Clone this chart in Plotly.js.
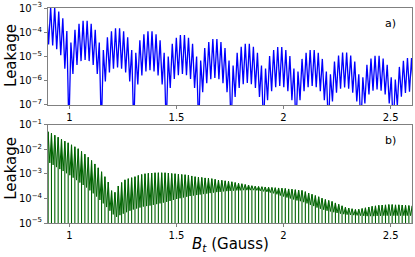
<!DOCTYPE html>
<html>
<head>
<meta charset="utf-8">
<script src="https://cdn.plot.ly/plotly-3.0.1.min.js"></script>
<style>html,body{margin:0;padding:0;background:#fff;}#chart{width:415px;height:257px;}</style>
</head>
<body>
<div id="chart"></div>
<script>
// ---------- panel a) : blue trace (log10 of leakage) ----------
const topDipX = [0.8649,0.8839,0.9028,0.9218,0.9407,0.9596,0.9786,0.9975,1.0164,1.0354,1.0543,1.0733,1.0922,1.1111,1.1301,1.1490,1.1679,1.1869,1.2058,1.2248,1.2437,1.2626,1.2816,1.3005,1.3195,1.3384,1.3573,1.3763,1.3952,1.4141,1.4331,1.4520,1.4710,1.4899,1.5088,1.5278,1.5467,1.5657,1.5846,1.6035,1.6225,1.6414,1.6603,1.6793,1.6982,1.7172,1.7361,1.7550,1.7740,1.7929,1.8118,1.8308,1.8497,1.8687,1.8876,1.9065,1.9255,1.9444,1.9633,1.9823,2.0012,2.0202,2.0391,2.0580,2.0770,2.0959,2.1148,2.1338,2.1527,2.1717,2.1906,2.2095,2.2285,2.2474,2.2664,2.2853,2.3042,2.3232,2.3421,2.3610,2.3800,2.3989,2.4179,2.4368,2.4557,2.4747,2.4936,2.5125,2.5315,2.5504,2.5693,2.5883,2.6072];
const topDipLog = [-4.6,-4.5,-4.5,-4.55,-4.7,-4.95,-5.5,-8,
 -5.72,-5.35,-5.19,-5.14,-5.19,-5.35,-5.72,-8,
 -6.03,-5.66,-5.50,-5.45,-5.50,-5.66,-6.03,-8,
 -6.15,-5.78,-5.62,-5.57,-5.62,-5.78,-6.15,-8,
 -6.3,-5.93,-5.77,-5.72,-5.77,-5.93,-6.3,-8,
 -6.47,-6.10,-5.94,-5.89,-5.94,-6.10,-6.47,-8,
 -6.67,-6.30,-6.14,-6.09,-6.14,-6.30,-6.67,-8,
 -6.8,-6.43,-6.27,-6.22,-6.27,-6.43,-6.8,-8,
 -6.8,-6.43,-6.27,-6.22,-6.27,-6.43,-6.8,-8,
 -6.86,-6.49,-6.33,-6.28,-6.33,-6.49,-6.86,-8,
 -6.94,-6.57,-6.41,-6.36,-6.41,-6.57,-6.94,-8,
 -7.03,-6.66,-6.5,-6.45,-6.5];
const topPeakLog = [-3.33,-3.07,-2.97,-2.98,-3.15,-3.42,-3.95,
 -4.42,-3.9,-3.65,-3.53,-3.53,-3.65,-3.9,-4.42,
 -4.73,-4.21,-3.96,-3.84,-3.84,-3.96,-4.21,-4.73,
 -4.85,-4.33,-4.08,-3.96,-3.96,-4.08,-4.33,-4.85,
 -5.0,-4.48,-4.23,-4.11,-4.11,-4.23,-4.48,-5.0,
 -5.17,-4.65,-4.40,-4.28,-4.28,-4.40,-4.65,-5.17,
 -5.37,-4.85,-4.60,-4.48,-4.48,-4.60,-4.85,-5.37,
 -5.5,-4.98,-4.73,-4.61,-4.61,-4.73,-4.98,-5.5,
 -5.62,-5.10,-4.85,-4.73,-4.73,-4.85,-5.10,-5.62,
 -5.73,-5.21,-4.96,-4.84,-4.84,-4.96,-5.21,-5.73,
 -5.86,-5.34,-5.09,-4.97,-4.97,-5.09,-5.34,-5.86,
 -5.95,-5.43,-5.18,-5.06,-5.06];

// ---------- panel b) : green trace (log10 of leakage) ----------
const botX = [0.885,0.9006,0.9162,0.9318,0.9474,0.963,0.9786,0.9942,1.0098,1.0254,1.041,1.0566,1.0722,1.0878,1.1034,1.119,1.1346,1.1502,1.1658,1.1814,1.197,1.2126,1.2282,1.2438,1.2594,1.275,1.2906,1.3062,1.3218,1.3374,1.353,1.3686,1.3842,1.3998,1.4154,1.431,1.4466,1.4622,1.4778,1.4934,1.509,1.5246,1.5402,1.5558,1.5714,1.587,1.6026,1.6182,1.6338,1.6494,1.665,1.6806,1.6962,1.7118,1.7274,1.743,1.7586,1.7742,1.7898,1.8054,1.821,1.8366,1.8522,1.8678,1.8834,1.899,1.9146,1.9302,1.9458,1.9614,1.977,1.9926,2.0082,2.0238,2.0394,2.055,2.0706,2.0862,2.1018,2.1174,2.133,2.1486,2.1642,2.1798,2.1954,2.211,2.2266,2.2422,2.2578,2.2734,2.289,2.3046,2.3202,2.3358,2.3514,2.367,2.3826,2.3982,2.4138,2.4294,2.445,2.4606,2.4762,2.4918,2.5074,2.523,2.5386,2.5542,2.5698,2.5854,2.601];
const botPeakLog = [-1.22,-1.28,-1.34,-1.42,-1.50,-1.58,-1.66,-1.73,-1.81,-1.89,
 -1.97,-2.08,-2.19,-2.32,-2.45,-2.59,-2.75,-2.91,-3.11,-3.33,
 -3.68,-3.75,-3.49,-3.35,-3.24,-3.19,-3.15,-3.11,-3.06,-3.02,
 -2.99,-2.97,-2.96,-2.95,-2.95,-2.95,-2.95,-2.96,-2.98,-2.99,
 -3.01,-3.02,-3.03,-3.05,-3.08,-3.11,-3.13,-3.14,-3.16,-3.17,
 -3.19,-3.22,-3.25,-3.26,-3.28,-3.30,-3.32,-3.35,-3.38,-3.40,
 -3.43,-3.45,-3.48,-3.50,-3.51,-3.52,-3.53,-3.54,-3.55,-3.56,
 -3.57,-3.58,-3.59,-3.61,-3.62,-3.64,-3.66,-3.67,-3.72,-3.78,
 -3.83,-3.88,-3.93,-3.99,-4.04,-4.08,-4.12,-4.18,-4.24,-4.30,
 -4.36,-4.39,-4.42,-4.45,-4.44,-4.41,-4.38,-4.35,-4.32,-4.30,
 -4.28,-4.27,-4.26,-4.25,-4.25,-4.26,-4.26,-4.27,-4.28,-4.29,-4.30];
const botTroughLog = [-2.45,-2.55,-2.63,-2.72,-2.8,-2.88,-2.97,-3.05,-3.15,-3.25,
 -3.35,-3.45,-3.55,-3.67,-3.79,-3.92,-4.06,-4.2,-4.35,-4.5,
 -4.65,-4.75,-4.68,-4.62,-4.56,-4.5,-4.45,-4.41,-4.37,-4.33,
 -4.31,-4.29,-4.26,-4.23,-4.2,-4.17,-4.14,-4.1,-4.06,-4.02,
 -3.99,-3.96,-3.93,-3.9,-3.88,-3.86,-3.84,-3.82,-3.8,-3.78,
 -3.76,-3.74,-3.73,-3.71,-3.7,-3.69,-3.68,-3.67,-3.67,-3.66,
 -3.66,-3.66,-3.66,-3.67,-3.69,-3.71,-3.73,-3.76,-3.79,-3.83,
 -3.88,-3.92,-3.96,-4.0,-4.04,-4.08,-4.11,-4.15,-4.2,-4.26,
 -4.31,-4.37,-4.42,-4.46,-4.5,-4.53,-4.56,-4.59,-4.62,-4.64,
 -4.66,-4.67,-4.68,-4.69,-4.7,-4.71,-4.72,-4.72,-4.72,-4.71,
 -4.71,-4.7,-4.7,-4.7,-4.7,-4.7,-4.7,-4.7,-4.7,-4.7];
const botSpikeFloorLog = -6;

// ---------- ticks & labels ----------
const xTickVals = [1, 1.5, 2, 2.5];
const xTickText = ['1', '1.5', '2', '2.5'];
const topYTickVals = [1e-3, 1e-4, 1e-5, 1e-6, 1e-7];
const topYTickText = ['10<sup>−3</sup>','10<sup>−4</sup>','10<sup>−5</sup>','10<sup>−6</sup>','10<sup>−7</sup>'];
const botYTickVals = [1e-1, 1e-2, 1e-3, 1e-4, 1e-5];
const botYTickText = ['10<sup>−1</sup>','10<sup>−2</sup>','10<sup>−3</sup>','10<sup>−4</sup>','10<sup>−5</sup>'];

const p10 = v => Math.pow(10, v);

// build top polyline: dip, peak (between dips), dip, ...
const topX = [], topY = [];
for (let i = 0; i < topDipX.length; i++) {
  topX.push(topDipX[i]); topY.push(p10(topDipLog[i]));
  if (i < topPeakLog.length) {
    topX.push((topDipX[i] + topDipX[i + 1]) / 2);
    topY.push(p10(topPeakLog[i]));
  }
}
// bottom polyline: peak, shallow trough, peak, ...
const botVX = [], botVY = [];
for (let i = 0; i < botX.length; i++) {
  botVX.push(botX[i]); botVY.push(p10(botPeakLog[i]));
  if (i < botTroughLog.length) {
    botVX.push((botX[i] + botX[i + 1]) / 2);
    botVY.push(p10(botTroughLog[i]));
  }
}
// deep spikes at every peak position
const spX = [], spY = [];
for (let i = 0; i < botX.length; i++) {
  spX.push(botX[i], botX[i], null);
  spY.push(p10(botPeakLog[i]), p10(botSpikeFloorLog), null);
}

const blue = '#0000ff', green = '#006400', frame = '#808080';
const font = {family: 'DejaVu Sans, sans-serif', size: 10, color: '#000'};

const traces = [
  {x: topX, y: topY, type: 'scatter', mode: 'lines', line: {color: blue, width: 1.3}, xaxis: 'x', yaxis: 'y', hoverinfo: 'skip'},
  {x: botVX, y: botVY, type: 'scatter', mode: 'lines', line: {color: green, width: 1}, xaxis: 'x2', yaxis: 'y2', hoverinfo: 'skip'},
  {x: spX, y: spY, type: 'scatter', mode: 'lines', line: {color: green, width: 1.1}, xaxis: 'x2', yaxis: 'y2', hoverinfo: 'skip', connectgaps: false}
];

const xAxisBase = {
  range: [0.9, 2.6], tickvals: xTickVals, ticktext: xTickText,
  showline: true, mirror: true, linecolor: frame, linewidth: 1,
  ticks: 'outside', ticklen: 3, tickcolor: frame, showgrid: false, zeroline: false,
  tickfont: font
};
const yAxisBase = {
  type: 'log', showline: true, mirror: true, linecolor: frame, linewidth: 1,
  ticks: 'outside', ticklen: 3, tickcolor: frame, showgrid: false, zeroline: false,
  tickfont: font
};

const layout = {
  width: 415, height: 257,
  margin: {l: 48, r: 3, t: 8, b: 34},
  paper_bgcolor: '#fff', plot_bgcolor: '#fff',
  showlegend: false,
  font: font,
  xaxis: Object.assign({}, xAxisBase, {anchor: 'y'}),
  yaxis: Object.assign({}, yAxisBase, {domain: [0.549, 1], range: [-7, -3], tickvals: topYTickVals, ticktext: topYTickText, anchor: 'x'}),
  xaxis2: Object.assign({}, xAxisBase, {anchor: 'y2'}),
  yaxis2: Object.assign({}, yAxisBase, {domain: [0, 0.456], range: [-5, -1], tickvals: botYTickVals, ticktext: botYTickText, anchor: 'x2'}),
  annotations: [
    {text: 'Leakage', xref: 'paper', yref: 'paper', x: -0.102, y: 0.781, textangle: -90, showarrow: false, font: {family: 'DejaVu Sans, sans-serif', size: 15, color: '#000'}, xanchor: 'center', yanchor: 'middle'},
    {text: 'Leakage', xref: 'paper', yref: 'paper', x: -0.102, y: 0.256, textangle: -90, showarrow: false, font: {family: 'DejaVu Sans, sans-serif', size: 15, color: '#000'}, xanchor: 'center', yanchor: 'middle'},
    {text: '<i>B<sub>t</sub></i> (Gauss)', xref: 'paper', yref: 'paper', x: 0.5, y: -0.102, showarrow: false, font: {family: 'DejaVu Sans, sans-serif', size: 15, color: '#000'}, xanchor: 'center', yanchor: 'middle'},
    {text: 'a)', xref: 'paper', yref: 'paper', x: 0.94, y: 0.93, showarrow: false, font: {family: 'DejaVu Sans, sans-serif', size: 11, color: '#000'}, xanchor: 'center', yanchor: 'middle'},
    {text: 'b)', xref: 'paper', yref: 'paper', x: 0.94, y: 0.386, showarrow: false, font: {family: 'DejaVu Sans, sans-serif', size: 11, color: '#000'}, xanchor: 'center', yanchor: 'middle'}
  ]
};

Plotly.newPlot('chart', traces, layout, {displayModeBar: false, staticPlot: true});
</script>
</body>
</html>
